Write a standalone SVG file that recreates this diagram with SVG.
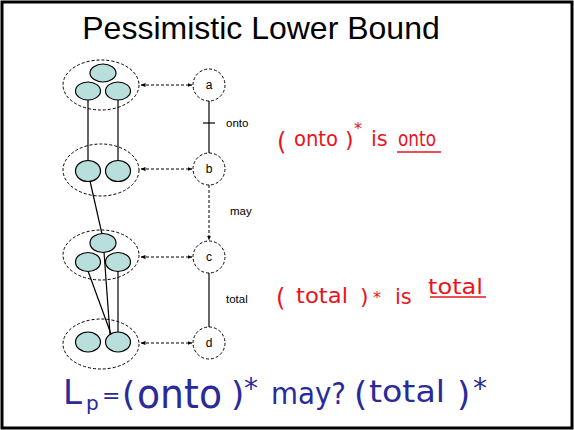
<svg xmlns="http://www.w3.org/2000/svg" width="574" height="430" viewBox="0 0 574 430">
<defs>
<marker id="ah" viewBox="0 0 10 10" refX="9" refY="5" markerWidth="5" markerHeight="5" orient="auto-start-reverse">
<path d="M0,1 L10,5 L0,9 z" fill="#000"/>
</marker>
<style>
.grp{fill:none;stroke:#000;stroke-width:1;stroke-dasharray:3,2}
.el{fill:#b9dfdd;stroke:#000;stroke-width:1.2}
.st{fill:#fff;stroke:#000;stroke-width:1;stroke-dasharray:3,2}
.ln{stroke:#000;stroke-width:1.2;fill:none}
.da{stroke:#000;stroke-width:1;fill:none;stroke-dasharray:3,2}
.lbl{font-family:"Liberation Sans",Arial,sans-serif;fill:#000}
.red{font-family:"DejaVu Sans","Liberation Sans",sans-serif;fill:#e8141e}
.blue{font-family:"DejaVu Sans","Liberation Sans",sans-serif;fill:#2a2a9a}
</style>
</defs>
<rect x="2" y="2" width="570" height="426" fill="#fff" stroke="#000" stroke-width="3"/>
<text x="261" y="39" text-anchor="middle" font-family="Liberation Sans, Arial, sans-serif" font-size="32">Pessimistic Lower Bound</text>

<g id="connectors">
<line class="ln" x1="88" y1="100" x2="88" y2="160"/>
<line class="ln" x1="118" y1="100" x2="118" y2="160"/>
<line class="ln" x1="90" y1="181" x2="102" y2="234"/>
<line class="ln" x1="88" y1="271" x2="111" y2="334"/>
<line class="ln" x1="104" y1="252" x2="110" y2="334"/>
<line class="ln" x1="118" y1="271" x2="118" y2="333"/>
<line class="da" x1="141" y1="85" x2="192" y2="85" marker-start="url(#ah)" marker-end="url(#ah)"/>
<line class="da" x1="141" y1="169" x2="192" y2="169" marker-start="url(#ah)" marker-end="url(#ah)"/>
<line class="da" x1="141" y1="257" x2="192" y2="257" marker-start="url(#ah)" marker-end="url(#ah)"/>
<line class="da" x1="141" y1="343" x2="192" y2="343" marker-start="url(#ah)" marker-end="url(#ah)"/>
<line class="ln" x1="209" y1="101" x2="209" y2="153"/>
<line class="ln" x1="203" y1="123" x2="215" y2="123"/>
<line class="da" x1="209" y1="185" x2="209" y2="240" marker-end="url(#ah)"/>
<line class="ln" x1="209" y1="273" x2="209" y2="327"/>
<text class="lbl" x="226" y="127" style="font-size:11.5px">onto</text>
<text class="lbl" x="230" y="215" style="font-size:11.5px">may</text>
<text class="lbl" x="226" y="303" style="font-size:11.5px">total</text>
</g>

<g id="group1">
<ellipse class="grp" cx="101" cy="85" rx="38" ry="25"/>
<ellipse class="el" cx="103" cy="73" rx="13" ry="9"/>
<ellipse class="el" cx="88" cy="91" rx="12.5" ry="9"/>
<ellipse class="el" cx="118" cy="91" rx="12.5" ry="9"/>
</g>
<g id="group2">
<ellipse class="grp" cx="101" cy="170" rx="38" ry="26"/>
<ellipse class="el" cx="88" cy="171" rx="12.5" ry="10.5"/>
<ellipse class="el" cx="118" cy="171" rx="12.5" ry="10.5"/>
</g>
<g id="group3">
<ellipse class="grp" cx="101" cy="255" rx="38" ry="25"/>
<ellipse class="el" cx="103" cy="243" rx="13" ry="9.5"/>
<ellipse class="el" cx="88" cy="262" rx="12.5" ry="9.5"/>
<ellipse class="el" cx="118" cy="262" rx="12.5" ry="9.5"/>
</g>
<g id="group4">
<ellipse class="grp" cx="101" cy="344" rx="38" ry="25"/>
<ellipse class="el" cx="88" cy="342" rx="12.5" ry="10"/>
<ellipse class="el" cx="118" cy="342" rx="12.5" ry="10"/>
</g>

<g id="node-a"><circle class="st" cx="209" cy="85" r="16"/><text class="lbl" x="209" y="89" text-anchor="middle" style="font-size:12px">a</text></g>
<g id="node-b"><circle class="st" cx="209" cy="169" r="16"/><text class="lbl" x="209" y="173" text-anchor="middle" style="font-size:12px">b</text></g>
<g id="node-c"><circle class="st" cx="209" cy="257" r="16"/><text class="lbl" x="209" y="261" text-anchor="middle" style="font-size:12px">c</text></g>
<g id="node-d"><circle class="st" cx="209" cy="343" r="16"/><text class="lbl" x="209" y="347" text-anchor="middle" style="font-size:12px">d</text></g>

<g id="note1">
<text class="red" x="277" y="150" style="font-size:24px">(</text>
<text class="red" x="294" y="146" style="font-size:22px" textLength="44" lengthAdjust="spacingAndGlyphs">onto</text>
<text class="red" x="345" y="147" style="font-size:22px">)</text>
<text class="red" x="354" y="134" style="font-size:16px">*</text>
<text class="red" x="371" y="146" style="font-size:21px">is</text>
<text class="red" x="398" y="146" style="font-size:22px" textLength="38" lengthAdjust="spacingAndGlyphs">onto</text>
<path d="M397,152 L441,152" stroke="#e8141e" stroke-width="1.5" fill="none"/>
</g>
<g id="note2">
<text class="red" x="276" y="306" style="font-size:24px">(</text>
<text class="red" x="296" y="303" style="font-size:22px" textLength="52" lengthAdjust="spacingAndGlyphs">total</text>
<text class="red" x="360" y="304" style="font-size:22px">)</text>
<text class="red" x="373" y="303" style="font-size:16px">*</text>
<text class="red" x="395" y="304" style="font-size:21px">is</text>
<text class="red" x="428" y="294" style="font-size:22px" textLength="55" lengthAdjust="spacingAndGlyphs">total</text>
<path d="M430,297 L486,297" stroke="#e8141e" stroke-width="1.5" fill="none"/>
</g>
<g id="formula">
<text class="blue" x="63" y="404" style="font-size:34px">L</text>
<text class="blue" x="86" y="410" style="font-size:20px">p</text>
<text class="blue" x="102" y="403" style="font-size:22px">=</text>
<text class="blue" x="122" y="406" style="font-size:34px">(</text>
<text class="blue" x="137" y="408" style="font-size:40px" textLength="85" lengthAdjust="spacingAndGlyphs">onto</text>
<text class="blue" x="231" y="406" style="font-size:34px">)</text>
<text class="blue" x="244" y="398" style="font-size:28px">*</text>
<text class="blue" x="271" y="404" style="font-size:30px" textLength="75" lengthAdjust="spacingAndGlyphs">may?</text>
<text class="blue" x="354" y="406" style="font-size:34px">(</text>
<text class="blue" x="369" y="402" style="font-size:30px" textLength="76" lengthAdjust="spacingAndGlyphs">total</text>
<text class="blue" x="457" y="406" style="font-size:34px">)</text>
<text class="blue" x="473" y="398" style="font-size:28px">*</text>
</g>
</svg>
